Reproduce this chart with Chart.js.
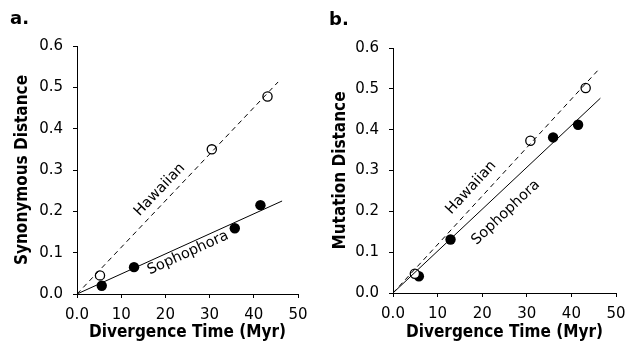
<!DOCTYPE html>
<html>
<head>
<meta charset="utf-8">
<script src="https://cdn.jsdelivr.net/npm/chart.js@4"></script>
<style>
  html, body { margin: 0; padding: 0; background: #fff; }
  .wrap { display: flex; width: 626px; height: 346px; }
  .panel { position: relative; width: 313px; height: 346px; }
</style>
</head>
<body>
<div class="wrap">
  <div class="panel"><canvas id="chartA" width="313" height="346"></canvas></div>
  <div class="panel"><canvas id="chartB" width="313" height="346"></canvas></div>
</div>
<script>
// panel a: synonymous distance
const hawaiianA = [{x: 5.2, y: 0.045}, {x: 30.5, y: 0.35}, {x: 43.1, y: 0.478}];
const sophophoraA = [{x: 5.6, y: 0.02}, {x: 12.9, y: 0.065}, {x: 35.7, y: 0.159}, {x: 41.5, y: 0.215}];
const hawaiianFitA = [{x: 0, y: 0}, {x: 45.5, y: 0.513}];
const sophophoraFitA = [{x: 0, y: 0}, {x: 46.4, y: 0.225}];

// panel b: mutation distance
const hawaiianB = [{x: 4.9, y: 0.047}, {x: 30.8, y: 0.373}, {x: 43.2, y: 0.502}];
const sophophoraB = [{x: 5.8, y: 0.041}, {x: 12.9, y: 0.131}, {x: 35.9, y: 0.381}, {x: 41.5, y: 0.412}];
const hawaiianFitB = [{x: 0, y: 0}, {x: 46.0, y: 0.546}];
const sophophoraFitB = [{x: 0, y: 0}, {x: 46.5, y: 0.477}];

const xTicks = [0, 10, 20, 30, 40, 50];
const yTicks = [0, 0.1, 0.2, 0.3, 0.4, 0.5, 0.6];

const FONT = "'DejaVu Sans', Verdana, sans-serif";
const TITLE_FONT = "'DejaVu Sans Condensed', 'DejaVu Sans', sans-serif";

// text along the fit lines
const lineLabels = {
  id: 'lineLabels',
  afterDatasetsDraw(chart, args, opts) {
    const ctx = chart.ctx;
    const xs = chart.scales.x, ys = chart.scales.y;
    ctx.save();
    ctx.font = '14.5px ' + FONT;
    ctx.fillStyle = '#000';
    ctx.textAlign = 'center';
    ctx.textBaseline = 'middle';
    opts.items.forEach(item => {
      const fit = chart.data.datasets[item.fit].data;
      const dx = xs.getPixelForValue(fit[1].x) - xs.getPixelForValue(fit[0].x);
      const dy = ys.getPixelForValue(fit[1].y) - ys.getPixelForValue(fit[0].y);
      ctx.save();
      ctx.translate(xs.getPixelForValue(item.x), ys.getPixelForValue(item.y));
      ctx.rotate(Math.atan2(dy, dx));
      ctx.fillText(item.text, 0, 0);
      ctx.restore();
    });
    ctx.restore();
  }
};

const panelLetter = {
  id: 'panelLetter',
  afterDraw(chart, args, opts) {
    const ctx = chart.ctx;
    ctx.save();
    ctx.font = 'bold 18px ' + FONT;
    ctx.fillStyle = '#000';
    ctx.textBaseline = 'middle';
    ctx.fillText(opts.text, opts.x, opts.y);
    ctx.restore();
  }
};

function makeChart(id, cfg) {
  new Chart(document.getElementById(id), {
    type: 'scatter',
    data: {
      datasets: [
        {data: cfg.hawFit, type: 'line', showLine: true, borderColor: '#000', borderWidth: 1,
         borderDash: [5, 4], pointRadius: 0, fill: false},
        {data: cfg.sophFit, type: 'line', showLine: true, borderColor: '#000', borderWidth: 1,
         pointRadius: 0, fill: false},
        {data: cfg.haw, pointRadius: 4.6, pointBackgroundColor: '#fff', pointBorderColor: '#000',
         pointBorderWidth: 1.3},
        {data: cfg.soph, pointRadius: 5.2, pointBackgroundColor: '#000', pointBorderColor: '#000',
         pointBorderWidth: 0}
      ]
    },
    options: {
      responsive: false,
      animation: false,
      events: [],
      layout: {padding: {left: 0, top: cfg.top, right: cfg.right, bottom: 0}},
      plugins: {
        legend: {display: false},
        tooltip: {enabled: false},
        lineLabels: {items: cfg.labels},
        panelLetter: cfg.letter
      },
      scales: {
        x: {
          type: 'linear', min: 0, max: 50,
          afterBuildTicks: s => { s.ticks = xTicks.map(v => ({value: v})); },
          afterFit: s => { s.height = cfg.xh; s.paddingLeft = 0; s.paddingRight = 0; },
          grid: {display: true, drawOnChartArea: false, drawTicks: true, tickLength: 4, color: '#000'},
          border: {display: true, color: '#000', width: 1},
          ticks: {color: '#000', font: {family: FONT, size: 15}, padding: 8,
                  callback: v => v === 0 ? '0.0' : String(v)},
          title: {display: true, text: 'Divergence Time (Myr)', color: '#000',
                  font: {family: TITLE_FONT, size: 17, weight: 'bold'}, padding: {top: 2, bottom: 3}}
        },
        y: {
          type: 'linear', min: 0, max: 0.6,
          afterBuildTicks: s => { s.ticks = yTicks.map(v => ({value: v})); },
          afterFit: s => { s.width = cfg.yw; s.paddingTop = 0; s.paddingBottom = 0; },
          grid: {display: true, drawOnChartArea: false, drawTicks: true, tickLength: 4, color: '#000'},
          border: {display: true, color: '#000', width: 1},
          ticks: {color: '#000', font: {family: FONT, size: 15}, padding: 10,
                  callback: v => v.toFixed(1)},
          title: {display: true, text: cfg.yTitle, color: '#000',
                  font: {family: TITLE_FONT, size: 17, weight: 'bold'}, padding: {top: cfg.yTitlePad, bottom: 2}}
        }
      }
    },
    plugins: [lineLabels, panelLetter]
  });
}

makeChart('chartA', {
  haw: hawaiianA, soph: sophophoraA, hawFit: hawaiianFitA, sophFit: sophophoraFitA,
  yTitle: 'Synonymous Distance', yTitlePad: 12, top: 46, right: 15, yw: 77, xh: 52,
  letter: {text: 'a.', x: 10, y: 19},
  labels: [
    {text: 'Hawaiian', x: 18.7, y: 0.252, fit: 0},
    {text: 'Sophophora', x: 25.1, y: 0.099, fit: 1}
  ]
});

makeChart('chartB', {
  haw: hawaiianB, soph: sophophoraB, hawFit: hawaiianFitB, sophFit: sophophoraFitB,
  yTitle: 'Mutation Distance', yTitlePad: 17, top: 48, right: 10, yw: 80, xh: 53,
  letter: {text: 'b.', x: 16, y: 20},
  labels: [
    {text: 'Hawaiian', x: 17.5, y: 0.258, fit: 0},
    {text: 'Sophophora', x: 25.3, y: 0.197, fit: 1}
  ]
});
</script>
</body>
</html>
